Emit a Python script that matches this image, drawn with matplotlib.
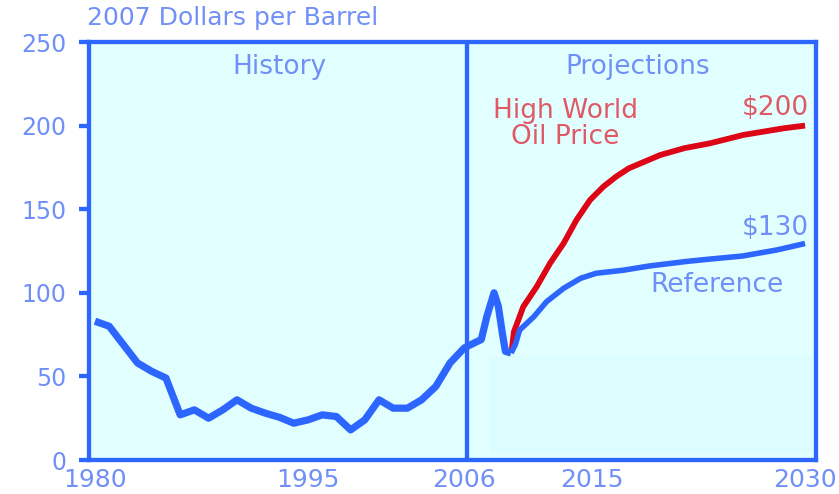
import matplotlib
matplotlib.use("Agg")
import matplotlib.pyplot as plt
from matplotlib.patches import Rectangle

# ============ data (2007 dollars per barrel) ============
hist_years = [1980, 1981, 1982, 1983, 1984, 1985, 1985.5, 1986, 1987, 1988,
              1989, 1990, 1991, 1992, 1993, 1994, 1995, 1996, 1997, 1998,
              1999, 2000, 2001, 2002, 2003, 2004, 2005, 2006, 2006.7, 2007.2,
              2007.6, 2008.1, 2008.4, 2008.7, 2008.9, 2009.3]
hist_price = [83, 80, 69, 58, 53, 49, 38, 27, 30, 25,
              30, 36, 31, 28, 25.5, 22, 24, 27, 26, 18,
              24, 36, 31, 31, 36, 44, 58, 67, 70, 72,
              86, 100, 92, 75, 65, 64]

ref_years = [2009.3, 2009.6, 2009.9, 2010.9, 2011.8, 2013.0, 2014.2, 2015.3,
             2017.2, 2019.0, 2021.7, 2023.1, 2025.6, 2028.0, 2030.0]
ref_price = [64, 69, 77.7, 85.7, 94.7, 102.7, 108.7, 111.7,
             113.5, 116, 118.8, 120, 122, 125.6, 129.5]

high_years = [2009.35, 2009.5, 2010.16, 2011.1, 2012.04, 2013.0, 2013.9, 2014.86,
              2015.8, 2016.7, 2017.6, 2019.8, 2021.5, 2023.3, 2025.65, 2028.5, 2030.0]
high_price = [66, 76.7, 91.7, 103.6, 117.6, 129.6, 143.5, 155.5,
              163.5, 169.5, 174.5, 182.4, 186.5, 189.4, 194.4, 198.4, 200]

x_ticks = [1980, 1995, 2006, 2015, 2030]
y_ticks = [0, 50, 100, 150, 200, 250]
divider_year = 2006.2

# ============ style ============
BLUE = '#2d66ff'
TEXT_BLUE = '#7090f8'
RED = '#dc0616'
TEXT_RED = '#df5a66'
BG = '#e2ffff'

fig = plt.figure(figsize=(8.39, 4.94), dpi=100)
ax = fig.add_axes([89 / 839, 34 / 494, 727 / 839, 418 / 494])
ax.set_facecolor(BG)

# faint shaded block in the projection area
ax.add_patch(Rectangle((2007.8, 4), 22.7, 58, facecolor='#dcfdff',
                       edgecolor='none', zorder=1))

ax.axvline(divider_year, color=BLUE, lw=3.1, zorder=2)

ax.plot(hist_years, hist_price, color=BLUE, lw=5.2, zorder=4,
        solid_joinstyle='round', solid_capstyle='butt')
ax.plot(high_years, high_price, color=RED, lw=4.2, zorder=3,
        solid_joinstyle='round', solid_capstyle='butt')
ax.plot(ref_years, ref_price, color=BLUE, lw=4.0, zorder=4,
        solid_joinstyle='round', solid_capstyle='butt')

ax.set_xlim(1979.58, 2030.77)
ax.set_ylim(0, 250)

for side in ['left', 'right', 'top', 'bottom']:
    ax.spines[side].set_color(BLUE)
    ax.spines[side].set_linewidth(3.1)

ax.set_yticks(y_ticks)
ax.set_yticklabels([str(v) for v in y_ticks])
ax.set_xticks(x_ticks)
ax.set_xticklabels([str(v) for v in x_ticks])
ax.tick_params(axis='y', direction='out', length=7.2, width=3.1, color=BLUE,
               labelcolor=TEXT_BLUE, labelsize=17, pad=9)
ax.tick_params(axis='x', length=0, labelcolor=TEXT_BLUE, labelsize=18, pad=6)

# annotations
ax.text(1993.0, 235, 'History', color=TEXT_BLUE, fontsize=19,
        ha='center', va='center')
ax.text(2018.2, 235, 'Projections', color=TEXT_BLUE, fontsize=19,
        ha='center', va='center')
ax.text(2013.1, 201, 'High World\nOil Price', color=TEXT_RED, fontsize=19,
        ha='center', va='center', linespacing=1.0)
ax.text(2027.9, 210.5, '$200', color=TEXT_RED, fontsize=19,
        ha='center', va='center')
ax.text(2027.9, 138.8, '$130', color=TEXT_BLUE, fontsize=19,
        ha='center', va='center')
ax.text(2023.8, 104.7, 'Reference', color=TEXT_BLUE, fontsize=19,
        ha='center', va='center')

fig.text(87 / 839, 1 - 18 / 494, '2007 Dollars per Barrel', color=TEXT_BLUE,
         fontsize=18, ha='left', va='center')

fig.savefig('out.png', dpi=100)
